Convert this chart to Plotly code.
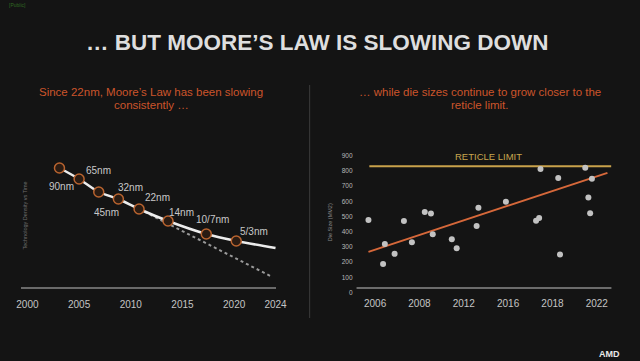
import plotly.graph_objects as go

W, H = 640, 361

# ---------------- data: left chart (technology density vs time) ----------------
node_labels = ["90nm", "65nm", "45nm", "32nm", "22nm", "14nm", "10/7nm", "5/3nm"]
node_year = [2003.1, 2005.0, 2006.9, 2008.8, 2010.8, 2013.6, 2017.3, 2020.2]
node_density = [119, 108, 95, 88, 78, 66, 53, 46]
curve_end_year = [2024.0]
curve_end_density = [39]
ideal_year = [2010.8, 2023.5]
ideal_density = [78, 11]
left_tick_years = [2000, 2005, 2010, 2015, 2020, 2024]

# ---------------- data: right chart (die size vs year) ----------------
year_labels = ["2006", "2008", "2012", "2016", "2018", "2022"]
die_pos = [-0.15, 0.18, 0.22, 0.44, 0.65, 0.83, 1.12, 1.26, 1.30, 1.73, 1.84, 2.29,
           2.33, 2.95, 3.63, 3.70, 3.73, 4.13, 4.17, 4.74, 4.81, 4.85, 4.89]
die_size = [478, 189, 320, 255, 470, 331, 529, 520, 384, 351, 292, 437,
            557, 597, 472, 491, 812, 753, 250, 820, 625, 522, 748]
trend_pos = [-0.15, 5.24]
trend_size = [268, 787]
reticle_limit = 830
reticle_span = [-0.13, 5.33]
die_ticks = [0, 100, 200, 300, 400, 500, 600, 700, 800, 900]

# label offsets (pixels) for node labels
label_shift = {
    "90nm": (2, -18), "65nm": (19, 9), "45nm": (8, -20), "32nm": (12, 12),
    "22nm": (18, 12), "14nm": (13, 9), "10/7nm": (6, 15), "5/3nm": (18, 10),
}

FONT = "Liberation Sans, Arial, sans-serif"
BG = "#141414"
ORANGE_TXT = "#cc552b"

def px_x(p):
    return p / W

def px_y(p):
    return (H - p) / H

def text_at(x, y, text, size, color, bold=False, angle=0):
    return dict(x=px_x(x), y=px_y(y), xref="paper", yref="paper", text=text, showarrow=False,
                xanchor="center", yanchor="middle", textangle=angle,
                font=dict(family=FONT, size=size, color=color, weight="bold" if bold else "normal"))

fig = go.Figure()

# left: ideal (dotted) trend
fig.add_trace(go.Scatter(x=ideal_year, y=ideal_density, mode="lines",
                         line=dict(color="#9a9a9a", width=2, dash="dot"),
                         xaxis="x", yaxis="y", hoverinfo="skip"))
# left: actual curve
fig.add_trace(go.Scatter(x=node_year + curve_end_year, y=node_density + curve_end_density,
                         mode="lines", line=dict(color="#ececec", width=2.5, shape="spline", smoothing=0.8),
                         xaxis="x", yaxis="y", hoverinfo="skip"))
# left: node markers
fig.add_trace(go.Scatter(x=node_year, y=node_density, mode="markers",
                         marker=dict(size=10, color="#2a1b12", line=dict(color="#b8632f", width=1.5)),
                         xaxis="x", yaxis="y", hoverinfo="skip"))

# right: reticle limit
fig.add_trace(go.Scatter(x=reticle_span, y=[reticle_limit, reticle_limit], mode="lines",
                         line=dict(color="#c9a24b", width=2), xaxis="x2", yaxis="y2", hoverinfo="skip"))
# right: trend line
fig.add_trace(go.Scatter(x=trend_pos, y=trend_size, mode="lines",
                         line=dict(color="#d6683a", width=2), xaxis="x2", yaxis="y2", hoverinfo="skip"))
# right: die points
fig.add_trace(go.Scatter(x=die_pos, y=die_size, mode="markers",
                         marker=dict(size=6, color="#c2c2c2"), xaxis="x2", yaxis="y2", hoverinfo="skip"))

annotations = []
for lab, xv, yv in zip(node_labels, node_year, node_density):
    dx, dy = label_shift[lab]
    annotations.append(dict(x=xv, y=yv, xref="x", yref="y", text=lab, showarrow=False,
                            xanchor="center", yanchor="middle",
                            xshift=dx, yshift=dy, font=dict(family=FONT, size=10, color="#c8c8c8")))

annotations.append(dict(x=sum(reticle_span) / 2 - 0.04, y=reticle_limit, xref="x2", yref="y2",
                        text="RETICLE LIMIT", showarrow=False, yshift=10,
                        xanchor="center", yanchor="middle",
                        font=dict(family=FONT, size=9.5, color="#c9a64e")))

annotations += [
    text_at(320, 42, "… BUT MOORE’S LAW IS SLOWING DOWN", 22.5, "#dedede", bold=True),
    text_at(151, 92, "Since 22nm, Moore’s Law has been slowing", 11.5, ORANGE_TXT),
    text_at(151, 105, "consistently …", 11.5, ORANGE_TXT),
    text_at(487, 92, "… while die sizes continue to grow closer to the", 11.5, ORANGE_TXT),
    text_at(487, 105, "reticle limit.", 11.5, ORANGE_TXT),
    text_at(21, 216, "Technology Density vs Time", 5.5, "#6e6e6e", angle=-90),
    text_at(334, 222, "Die Size (MM2)", 5.5, "#8a8a8a", angle=-90),
    text_at(14, 5, "[Public]", 5, "#2f6a22"),
    text_at(620, 354, "AMD", 9, "#e8e8e8", bold=True),
]

shapes = [
    dict(type="line", xref="paper", yref="paper", x0=px_x(313), x1=px_x(313), y0=px_y(85), y1=px_y(318),
         line=dict(color="#3c3c3c", width=1)),
    dict(type="line", xref="paper", yref="paper", x0=px_x(361), x1=px_x(622), y0=px_y(288), y1=px_y(288),
         line=dict(color="#8a8a8a", width=1.5)),
]

tickfont = dict(family=FONT, size=10, color="#c4c4c4")

fig.update_layout(
    width=W, height=H, margin=dict(l=0, r=0, t=0, b=0),
    paper_bgcolor=BG, plot_bgcolor="rgba(0,0,0,0)", showlegend=False,
    annotations=annotations, shapes=shapes,
    xaxis=dict(domain=[px_x(17), px_x(279)], range=[1999.34, 2024.09], tickvals=left_tick_years,
               showgrid=False, zeroline=False, showline=True, linecolor="#6a6a6a", linewidth=2,
               tickfont=tickfont, ticks="", ticklabelstandoff=7, anchor="y", fixedrange=True),
    yaxis=dict(domain=[px_y(287), px_y(150)], range=[0, 137], visible=False, anchor="x", fixedrange=True),
    xaxis2=dict(domain=[px_x(361), px_x(622)], range=[-0.4185, 5.33], tickvals=list(range(len(year_labels))),
                ticktext=year_labels, showgrid=False, zeroline=False, showline=False,
                tickfont=tickfont, ticks="", ticklabelstandoff=0, anchor="y2", fixedrange=True),
    yaxis2=dict(domain=[px_y(296), px_y(150)], range=[-22, 937], tickvals=die_ticks,
                showgrid=False, zeroline=False, showline=False, ticks="",
                tickfont=dict(family=FONT, size=6.5, color="#b8b8b8"), ticklabelstandoff=3, anchor="x2",
                fixedrange=True),
)

fig.write_html("out.html", config={"displayModeBar": False},
               post_script="document.body.style.margin='0';document.body.style.background='#141414';")
